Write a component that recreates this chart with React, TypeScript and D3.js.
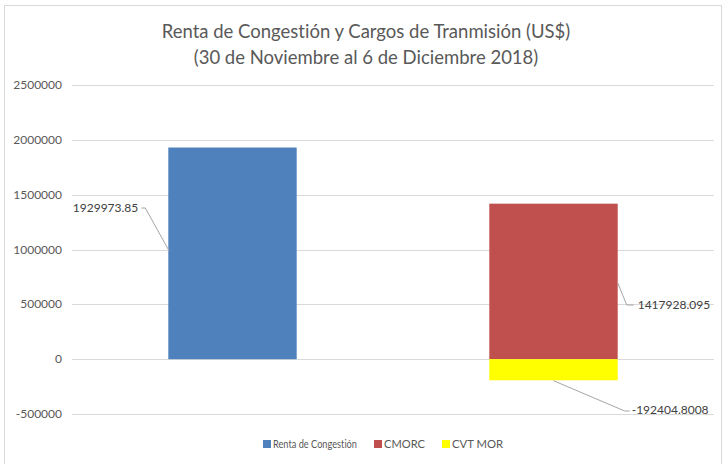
import React from 'react';
import * as d3 from 'd3';

const categories = ['Semana 1', 'Semana 2'];
const seriesNames = ['Renta de Congestión', 'CMORC', 'CVT MOR'];
const rentaValues = [1929973.85, 0];
const cmorcValues = [0, 1417928.095];
const cvtValues = [0, -192404.8008];
const yTicks = [-500000, 0, 500000, 1000000, 1500000, 2000000, 2500000];
const colors = ['#4F81BD', '#C0504D', '#FFFF00'];

const W = 723;
const H = 464;
const FONT = 'Lato, "Open Sans", sans-serif';
const noLig = { fontVariantLigatures: 'none' as const };

const App = () => {
  const left = 72;
  const right = 714;

  const rows = categories.map((c, i) => ({
    cat: c,
    [seriesNames[0]]: rentaValues[i],
    [seriesNames[1]]: cmorcValues[i],
    [seriesNames[2]]: cvtValues[i],
  }));

  const stacked = d3.stack<any>()
    .keys(seriesNames)
    .offset(d3.stackOffsetDiverging)(rows);

  const x = d3.scaleBand().domain(categories).range([left, right]).padding(0);
  const barW = x.bandwidth() * 0.4;
  const y = d3.scaleLinear().domain([-500000, 2500000]).range([414, 85]);

  const barX = (cat: string) => (x(cat) as number) + (x.bandwidth() - barW) / 2;

  // data labels with leader lines (Excel style)
  const lblStroke = '#a6a6a6';
  const r0 = barX(categories[0]);
  const r1 = barX(categories[1]);
  const yRenta = y(rentaValues[0]);
  const yCmorc = y(cmorcValues[1]);
  const yCvt = y(cvtValues[1]);
  const y0 = y(0);

  const labels = [
    {
      text: String(rentaValues[0]),
      tx: r0 - 30, ty: 212, anchor: 'end',
      pts: [[r0 - 27, 208], [r0 - 23, 208], [r0 + 1, yRenta + (y0 - yRenta) * 0.49]],
    },
    {
      text: String(cmorcValues[1]),
      tx: r1 + barW + 20, ty: 309, anchor: 'start',
      pts: [[r1 + barW, yCmorc + 79], [r1 + barW + 9, 305], [r1 + barW + 16, 305]],
    },
    {
      text: String(cvtValues[1]),
      tx: r1 + barW + 14, ty: 414, anchor: 'start',
      pts: [[r1 + barW / 2, (y0 + yCvt) / 2 + 11], [r1 + barW + 7, 411], [r1 + barW + 12, 411]],
    },
  ];

  const legendItems = [
    { name: seriesNames[0], x: 263, w: 84 },
    { name: seriesNames[1], x: 374, w: 41 },
    { name: seriesNames[2], x: 442, w: 51 },
  ];

  return (
    <svg width={W} height={H} style={{ position: 'absolute', left: 0, top: 0, background: '#fff' }}>
      <rect x={4.5} y={5.5} width={717} height={470} fill="#fff" stroke="#d9d9d9" />
      <text x={366} y={38} textAnchor="middle" fontFamily={FONT} fontSize={18.5} fill="#595959" style={noLig}>
        Renta de Congestión y Cargos de Tranmisión (US$)
      </text>
      <text x={366} y={64} textAnchor="middle" fontFamily={FONT} fontSize={18.5} fill="#595959" style={noLig}>
        (30 de Noviembre al 6 de Diciembre 2018)
      </text>
      {yTicks.map((t) => (
        <g key={t}>
          <line x1={left} x2={right} y1={Math.round(y(t)) + 0.5} y2={Math.round(y(t)) + 0.5} stroke="#d9d9d9" />
          <text x={62} y={y(t) + 4} textAnchor="end" fontFamily={FONT} fontSize={12} fill="#595959">
            {t}
          </text>
        </g>
      ))}
      {stacked.map((s, si) => (
        <g key={s.key} fill={colors[si]}>
          {s.map((d, i) => {
            if (d[1] - d[0] === 0) return null;
            const cat = categories[i];
            return (
              <rect
                key={cat}
                x={barX(cat)}
                y={y(Math.max(d[0], d[1]))}
                width={barW}
                height={Math.abs(y(d[0]) - y(d[1]))}
              />
            );
          })}
        </g>
      ))}
      {labels.map((l, i) => (
        <g key={i}>
          <polyline points={l.pts.map((p) => p.join(',')).join(' ')} fill="none" stroke={lblStroke} strokeWidth={1} />
          <text x={l.tx} y={l.ty} textAnchor={l.anchor as any} fontFamily={FONT} fontSize={12} fill="#404040">
            {l.text}
          </text>
        </g>
      ))}
      {legendItems.map((it, i) => (
        <g key={it.name}>
          <rect x={it.x} y={440} width={8} height={8} fill={colors[i]} />
          <text
            x={it.x + 10}
            y={448}
            fontFamily={FONT}
            fontSize={11}
            fill="#595959"
            textLength={it.w}
            lengthAdjust="spacingAndGlyphs"
            style={noLig}
          >
            {it.name}
          </text>
        </g>
      ))}
    </svg>
  );
};

export default App;
